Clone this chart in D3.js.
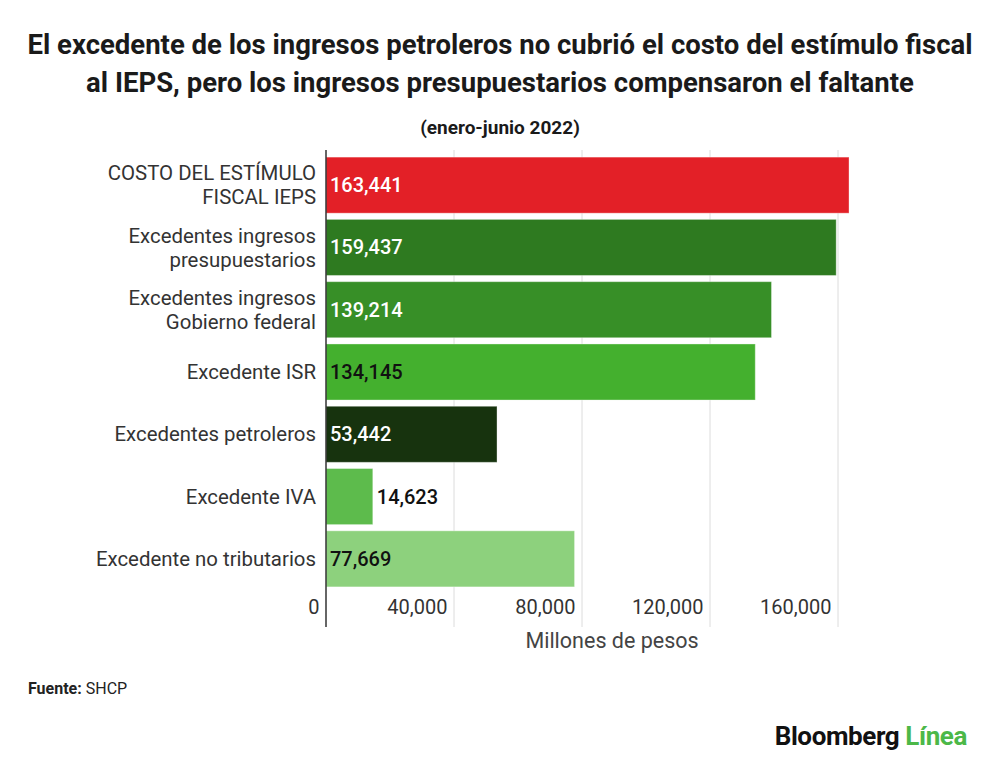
<!DOCTYPE html>
<html lang="es">
<head>
<meta charset="UTF-8">
<title>Estímulo fiscal IEPS</title>
<script src="https://d3js.org/d3.v7.min.js"></script>
<style>
  body { margin: 0; background: #fff; }
  text { font-family: Roboto, "Noto Sans", sans-serif; }
</style>
</head>
<body>
<svg width="1000" height="767"></svg>
<script>
const categories = [
  ["COSTO DEL ESTÍMULO", "FISCAL IEPS"],
  ["Excedentes ingresos", "presupuestarios"],
  ["Excedentes ingresos", "Gobierno federal"],
  ["Excedente ISR"],
  ["Excedentes petroleros"],
  ["Excedente IVA"],
  ["Excedente no tributarios"]
];
const values = [163441, 159437, 139214, 134145, 53442, 14623, 77669];
const barColors = ["#e32027", "#2e7a20", "#378f27", "#44b02e", "#17330e", "#5dbb4c", "#8dd17d"];
const labelColors = ["#fff", "#fff", "#fff", "#111", "#fff", "#111", "#111"];
const xTicks = [0, 40000, 80000, 120000, 160000];

const svg = d3.select("svg");

// escalas
const x = d3.scaleLinear().domain([0, 40000]).range([326, 454]);
const y = d3.scaleBand().domain(d3.range(values.length)).range([154, 590]).paddingInner(0.1).paddingOuter(0.05);

// títulos
svg.append("text").attr("x", 500).attr("y", 54).attr("text-anchor", "middle")
  .attr("font-size", 27.5).attr("font-weight", 700).attr("fill", "#1a1a1a")
  .text("El excedente de los ingresos petroleros no cubrió el costo del estímulo fiscal");
svg.append("text").attr("x", 500).attr("y", 92).attr("text-anchor", "middle")
  .attr("font-size", 27.5).attr("font-weight", 700).attr("fill", "#1a1a1a")
  .text("al IEPS, pero los ingresos presupuestarios compensaron el faltante");
svg.append("text").attr("x", 500).attr("y", 134).attr("text-anchor", "middle")
  .attr("font-size", 19).attr("font-weight", 700).attr("fill", "#1a1a1a")
  .text("(enero-junio 2022)");

// rejilla
svg.append("g").selectAll("line").data(xTicks.slice(1)).join("line")
  .attr("x1", d => x(d)).attr("x2", d => x(d))
  .attr("y1", 150).attr("y2", 627)
  .attr("stroke", "#dcdcdc").attr("stroke-width", 1);

// eje x
const xAxis = d3.axisBottom(x).tickValues(xTicks).tickSize(0).tickFormat(d3.format(","));
const gx = svg.append("g").attr("transform", "translate(0,597)").call(xAxis);
gx.select(".domain").remove();
gx.selectAll("text")
  .attr("font-family", "Roboto, sans-serif").attr("font-size", 20).attr("fill", "#333")
  .attr("text-anchor", "end").attr("dx", -7).attr("dy", "0.71em");

svg.append("text").attr("x", 612).attr("y", 648).attr("text-anchor", "middle")
  .attr("font-size", 21.5).attr("fill", "#444").text("Millones de pesos");

// barras
svg.append("g").selectAll("rect").data(values).join("rect")
  .attr("x", x(0)).attr("y", (d, i) => y(i))
  .attr("width", d => x(d) - x(0)).attr("height", y.bandwidth())
  .attr("fill", (d, i) => barColors[i])
  .attr("stroke", "rgba(255,255,255,0.35)").attr("stroke-width", 1);

// valores
svg.append("g").selectAll("text").data(values).join("text")
  .attr("x", d => (x(d) - x(0) > 80 ? x(0) + 4 : x(d) + 4))
  .attr("y", (d, i) => y(i) + y.bandwidth() / 2)
  .attr("dy", "0.35em").attr("font-size", 20).attr("font-weight", 500)
  .attr("fill", (d, i) => labelColors[i])
  .text(d => d3.format(",")(d));

// etiquetas de categoría
const cat = svg.append("g").selectAll("text").data(categories).join("text")
  .attr("x", 316).attr("text-anchor", "end")
  .attr("y", (d, i) => y(i) + y.bandwidth() / 2 - (d.length - 1) * 12)
  .attr("font-size", 20.4).attr("fill", "#333");
cat.selectAll("tspan").data(d => d).join("tspan")
  .attr("x", 316).attr("dy", (d, j) => (j === 0 ? "0.35em" : 24))
  .text(d => d);

// eje vertical
svg.append("line").attr("x1", x(0)).attr("x2", x(0)).attr("y1", 150).attr("y2", 627)
  .attr("stroke", "#333").attr("stroke-width", 1.5);

// fuente
const src = svg.append("text").attr("x", 28).attr("y", 694).attr("font-size", 16).attr("fill", "#222");
src.append("tspan").attr("font-weight", 700).text("Fuente: ");
src.append("tspan").text("SHCP");

// logo
const logo = svg.append("text").attr("x", 967).attr("y", 745).attr("text-anchor", "end")
  .attr("font-family", "'Liberation Sans', Arial, sans-serif").attr("font-size", 26)
  .attr("font-weight", 700).attr("letter-spacing", -0.4);
logo.append("tspan").attr("fill", "#111").text("Bloomberg ");
logo.append("tspan").attr("fill", "#4cb848").text("Línea");
</script>
</body>
</html>
